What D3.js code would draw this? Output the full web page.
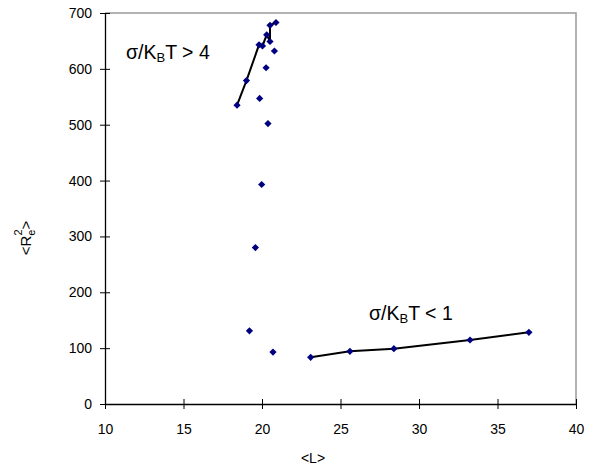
<!DOCTYPE html>
<html>
<head>
<meta charset="utf-8">
<script src="https://cdn.jsdelivr.net/npm/d3@7"></script>
<style>
  body { margin: 0; background: #fff; }
  text { font-family: Arial, "Liberation Sans", sans-serif; fill: #000; }
</style>
</head>
<body>
<svg id="chart" width="600" height="474"></svg>
<script>
// sigma/kT < 1 branch (connected)
var lowL = [23.1, 25.6, 28.4, 33.25, 37.0];
var lowR = [83.6, 94.3, 99.0, 114.6, 128.4];

// sigma/kT > 4 branch (connected)
var highL = [18.41, 19.01, 19.81, 20.03, 20.30, 20.51, 20.51, 20.89];
var highR = [535, 579, 643, 641, 661, 649, 678, 683];

// loose points, not on a line
var looseL = [20.79, 20.26, 19.85, 20.38, 19.98, 19.58, 19.20, 20.70];
var looseR = [632, 602, 547, 502, 393, 280, 131, 93];

var xTicks = [10, 15, 20, 25, 30, 35, 40];
var yTicks = [0, 100, 200, 300, 400, 500, 600, 700];

var svg = d3.select("#chart");

var x = d3.scaleLinear().domain([10, 40]).range([105, 576]);
var y = d3.scaleLinear().domain([0, 700]).range([404, 13]);

function zip(a, b) {
    return a.map(function (v, i) { return [v, b[i]]; });
}

// grey frame top / right
svg.append("path")
    .attr("d", "M" + x(10) + "," + y(700) + "H" + x(40) + "V" + y(0))
    .attr("fill", "none")
    .attr("stroke", "#999")
    .attr("stroke-width", 1.5);

// axes
var xAxis = svg.append("g")
    .attr("transform", "translate(0," + y(0) + ")")
    .call(d3.axisBottom(x).tickValues(xTicks).tickSize(5).tickSizeOuter(0));
xAxis.selectAll(".tick line").attr("y1", -5);
xAxis.selectAll(".tick text").attr("dy", "1.55em").style("font-size", "14px");

var yAxis = svg.append("g")
    .attr("transform", "translate(" + x(10) + ",0)")
    .call(d3.axisLeft(y).tickValues(yTicks).tickSize(5).tickSizeOuter(0));
yAxis.selectAll(".tick line").attr("x1", 5);
yAxis.selectAll(".tick text").attr("x", -13).style("font-size", "14px");

svg.selectAll(".domain").attr("stroke", "#000").attr("stroke-width", 1.3);
svg.selectAll(".tick line").attr("stroke", "#000");
svg.selectAll(".tick text").style("font-family", "Arial, 'Liberation Sans', sans-serif").attr("fill", "#000");

// lines
var line = d3.line()
    .x(function (d) { return x(d[0]); })
    .y(function (d) { return y(d[1]); });

[zip(lowL, lowR), zip(highL, highR)].forEach(function (pts) {
    svg.append("path")
        .attr("d", line(pts))
        .attr("fill", "none")
        .attr("stroke", "#000")
        .attr("stroke-width", 2);
});

// diamond markers
var allPts = zip(lowL, lowR).concat(zip(highL, highR), zip(looseL, looseR));
var diamond = d3.symbol().type(d3.symbolSquare).size(26);
svg.append("g").selectAll("path")
    .data(allPts)
    .join("path")
    .attr("d", diamond)
    .attr("transform", function (d) {
        return "translate(" + x(d[0]) + "," + y(d[1]) + ") rotate(45)";
    })
    .attr("fill", "#000080");

// axis titles
svg.append("text")
    .attr("x", 313).attr("y", 463)
    .attr("text-anchor", "middle")
    .style("font-size", "14px")
    .text("<L>");

var yt = svg.append("text")
    .attr("transform", "translate(31,238) rotate(-90)")
    .attr("text-anchor", "middle")
    .style("font-size", "15px");
yt.append("tspan").text("<R");
yt.append("tspan").attr("dy", 4).style("font-size", "11px").text("e");
yt.append("tspan").attr("dx", -6).attr("dy", -13).style("font-size", "11px").text("2");
yt.append("tspan").attr("dy", 9).text(">");

// annotations
function label(tx, ty, tail) {
    var t = svg.append("text")
        .attr("x", tx).attr("y", ty)
        .style("font-size", "19.5px");
    t.append("tspan").text("σ/K");
    t.append("tspan").attr("dy", 3).style("font-size", "13px").text("B");
    t.append("tspan").attr("dy", -3).text("T " + tail);
}
label(126, 59, "> 4");
label(369, 320, "< 1");
</script>
</body>
</html>
